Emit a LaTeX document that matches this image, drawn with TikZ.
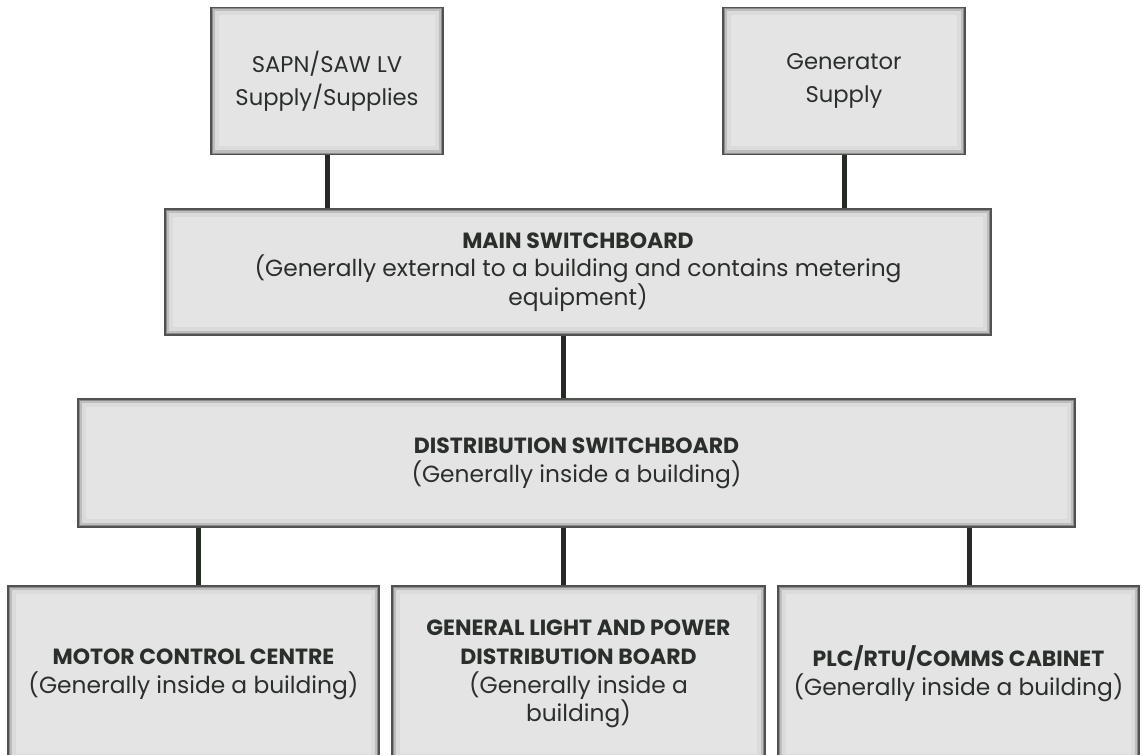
\documentclass[tikz,border=0pt]{standalone}
\usepackage{fontspec}
\setmainfont{Poppins}
\usetikzlibrary{positioning}
\definecolor{boxgray}{HTML}{E4E4E4}
\definecolor{edgegray}{HTML}{505250}
\definecolor{linkdark}{HTML}{252A25}
\definecolor{inkdark}{HTML}{2B2F2B}
\newcommand{\BoxFillColor}{boxgray}
\newcommand{\BoxEdgeColor}{edgegray}
\newcommand{\LinkColor}{linkdark}
\newcommand{\BoxTextColor}{inkdark}
\newcommand{\Head}[1]{{\fontsize{16.5}{21.5}\selectfont\bfseries #1}}

\begin{document}
\begin{tikzpicture}[
	% pixel grid of the original, y pointing down
	x=0.75pt, y=-0.75pt,
	box/.style={rectangle, draw=\BoxEdgeColor, line width=1.2pt, fill=\BoxFillColor, text=\BoxTextColor, align=center, inner sep=0pt,
		font=\fontsize{17.5}{21.5}\selectfont,
		path picture={
			\draw[line width=12pt, black!14] (path picture bounding box.south west) rectangle (path picture bounding box.north east);
			\draw[line width=6pt, black!26] (path picture bounding box.south west) rectangle (path picture bounding box.north east);
			\draw[line width=2.5pt, black!45] (path picture bounding box.south west) rectangle (path picture bounding box.north east);
		}},
	link/.style={draw=\LinkColor, line width=3.75pt}
	]
	\clip (0,0) rectangle (1143,755);

	% supplies
	\draw (327,81) node[box, minimum width=232*0.75pt, minimum height=147*0.75pt, font=\fontsize{17}{24.75}\selectfont] (sapn) {SAPN/SAW LV\\Supply/Supplies};
	\draw (844,81) node[box, minimum width=242*0.75pt, minimum height=147*0.75pt, font=\fontsize{17}{24.75}\selectfont] (gen) {Generator\\Supply};

	% switchboards
	\draw (578,272) node[box, minimum width=826*0.75pt, minimum height=126*0.75pt] (msb) {\Head{MAIN SWITCHBOARD}\\(Generally external to a building and contains metering\\equipment)};
	\draw (576.5,463) node[box, minimum width=997*0.75pt, minimum height=128*0.75pt] (dsb) {\Head{DISTRIBUTION SWITCHBOARD}\\(Generally inside a building)};

	% boards below
	\draw (193.5,674) node[box, minimum width=371*0.75pt, minimum height=176*0.75pt] (mcc) {\Head{MOTOR CONTROL CENTRE}\\(Generally inside a building)};
	\draw (578.5,674) node[box, minimum width=373*0.75pt, minimum height=176*0.75pt] (glp) {\Head{GENERAL LIGHT AND POWER}\\\Head{DISTRIBUTION BOARD}\\(Generally inside a\\building)};
	\draw (958.5,674) node[box, minimum width=361*0.75pt, minimum height=176*0.75pt] (plc) {\Head{PLC/RTU/COMMS CABINET}\\(Generally inside a building)};

	\coordinate (spine) at (563,0);

	\draw[link] (sapn.south) -- (sapn.south |- msb.north);
	\draw[link] (gen.south) -- (gen.south |- msb.north);
	\draw[link] (msb.south -| spine) -- (dsb.north -| spine);

	\draw[link] ([xshift=3.4pt]mcc.north |- dsb.south) -- ([xshift=3.4pt]mcc.north);
	\draw[link] (dsb.south -| spine) -- (glp.north -| spine);
	\draw[link] ([xshift=8.6pt]plc.north |- dsb.south) -- ([xshift=8.6pt]plc.north);

\end{tikzpicture}
\end{document}
